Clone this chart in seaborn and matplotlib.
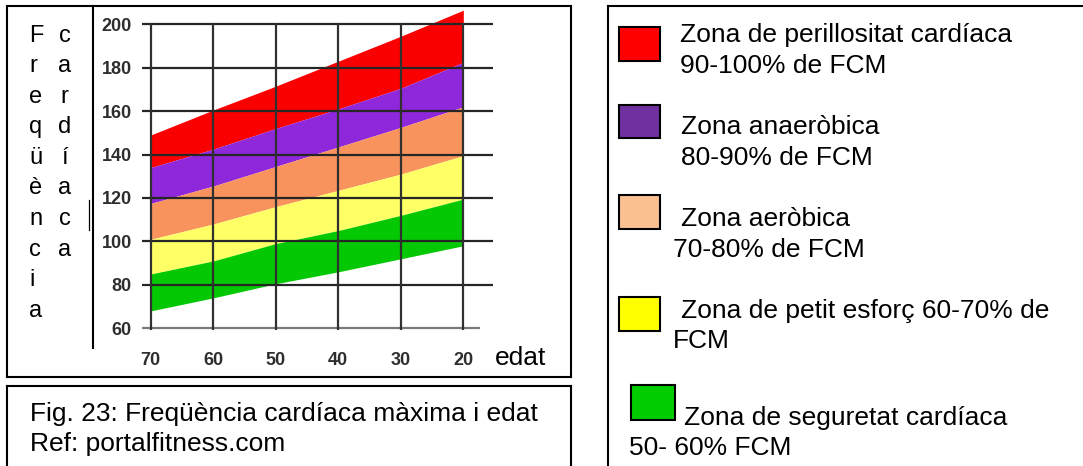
import matplotlib
matplotlib.use("Agg")
import matplotlib.pyplot as plt
import seaborn as sns
import pandas as pd
from matplotlib.lines import Line2D
from matplotlib.patches import Rectangle

# ---------------- data ----------------
ages = [70, 60, 50, 40, 30, 20]
red_top = [149, 160.5, 171.5, 183, 194.5, 206.5]
red_bottom = [134, 142.5, 152, 161, 170.5, 182.5]
purple_bottom = [117.5, 125.5, 134.5, 143.5, 152.5, 162]
orange_bottom = [101, 108, 116, 123.5, 131, 139.5]
yellow_bottom = [85, 91, 99, 105, 112, 119.5]
green_bottom = [68, 74, 80.5, 86, 92, 98]

y_ticks = [60, 80, 100, 120, 140, 160, 180, 200]
x_ticks = [70, 60, 50, 40, 30, 20]
x_tick_labels = ["70", "60", "50", "40", "30", "20"]

band_colors = ["#fb0000", "#8e28da", "#f8935e", "#ffff66", "#04c804"]
legend_colors = ["#ff0000", "#7030a0", "#fac090", "#ffff00", "#00cc00"]
legend_lines = [
    ("Zona de perillositat cardíaca", "90-100% de FCM"),
    ("Zona anaeròbica", "80-90% de FCM"),
    ("Zona aeròbica", "70-80% de FCM"),
    ("Zona de petit esforç 60-70% de", "FCM"),
    ("Zona de seguretat cardíaca", "50- 60% FCM"),
]
left_word = "Freqüència"
right_word = "cardíaca"
x_axis_word = "edat"
caption_lines = ["Fig. 23: Freqüència cardíaca màxima i edat", "Ref: portalfitness.com"]

# ---------------- style ----------------
sns.set_theme(style="white")
plt.rcParams["font.family"] = ["Liberation Sans", "DejaVu Sans"]

W, H = 1083, 466
fig = plt.figure(figsize=(W / 100, H / 100), dpi=100)
fig.patch.set_facecolor("white")


def fx(x):
    return x / W


def fy(y):
    return 1 - y / H


def fline(x0, y0, x1, y1, lw=1.5, color="black"):
    fig.add_artist(Line2D([fx(x0), fx(x1)], [fy(y0), fy(y1)], transform=fig.transFigure,
                          color=color, lw=lw, solid_capstyle="projecting"))


def ftext(x, y, s, size=19, **kw):
    fig.text(fx(x), fy(y), s, fontsize=size, va="baseline", ha=kw.pop("ha", "left"),
             color=kw.pop("color", "black"), **kw)


# ---------------- chart ----------------
ax_left, ax_right, ax_top, ax_bottom = 142, 493, 6, 335
ax = fig.add_axes([fx(ax_left), fy(ax_bottom), (ax_right - ax_left) / W, (ax_bottom - ax_top) / H])
ax.set_facecolor("none")
ax.set_xlim(71.39, 15.25)
ax.set_ylim(56.9, 208.43)

df = pd.DataFrame({
    "age": ages, "red_top": red_top, "red_bottom": red_bottom,
    "purple_bottom": purple_bottom, "orange_bottom": orange_bottom,
    "yellow_bottom": yellow_bottom, "green_bottom": green_bottom,
})
bounds = ["red_top", "red_bottom", "purple_bottom", "orange_bottom", "yellow_bottom", "green_bottom"]
for i, col in enumerate(band_colors):
    ax.fill_between(df["age"], df[bounds[i + 1]], df[bounds[i]], color=col, lw=0, zorder=1)

ax.hlines(y_ticks[1:], 71.39, 15.25, colors="#262626", lw=1.6, zorder=3)
ax.hlines(y_ticks[0], 71.39, 17.3, colors="#7a7a7a", lw=1.6, zorder=3)
ax.vlines(x_ticks, 59.2, 200.4, colors="#303030", lw=1.6, zorder=3)

for s in ax.spines.values():
    s.set_visible(False)
ax.grid(False)
ax.set_yticks(y_ticks)
ax.set_yticklabels([str(v) for v in y_ticks])
ax.set_xticks(x_ticks)
ax.set_xticklabels(x_tick_labels)
ax.tick_params(axis="y", length=0, pad=7.2, labelsize=13, labelcolor="#2e2e2e")
ax.tick_params(axis="x", length=0, pad=12.5, labelsize=13, labelcolor="#2e2e2e")
for lbl in ax.get_xticklabels() + ax.get_yticklabels():
    lbl.set_fontweight("bold")

# ---------------- frames ----------------
fline(7, 5.7, 571, 5.7)
fline(7, 5.7, 7, 376.5)
fline(571, 5.7, 571, 376.5)
fline(7, 376.5, 571, 376.5)
fline(93, 5.7, 93, 348)
fline(89, 200, 89, 230, lw=0.9)
fline(7, 385.7, 570.5, 385.7)
fline(7, 385.7, 7, 470)
fline(570.5, 385.7, 570.5, 470)
fline(607.7, 6, 1090, 6)
fline(607.7, 6, 607.7, 470)

# ---------------- vertical axis title ----------------
for i, ch in enumerate(left_word):
    ftext(29.5, 41.7 + i * 30.56, ch, size=17)
for i, ch in enumerate(right_word):
    ftext(64.5, 41.7 + i * 30.56, ch, size=17, ha="center")

ftext(495, 365, x_axis_word)

# ---------------- caption ----------------
ftext(29.5, 421, caption_lines[0])
ftext(29.5, 450.5, caption_lines[1])

# ---------------- legend ----------------
squares = [(618.7, 26.7, 659.7, 60.7), (618.7, 104.7, 659.7, 138.3), (618.7, 194.7, 659.7, 229),
           (618.7, 296.5, 659.7, 331), (630.7, 385, 674.7, 420)]
text_pos = [((680, 42.3), (680, 72.7)), ((681, 134), (681, 165)), ((681, 226), (673, 256.7)),
            ((681, 317.7), (673, 348.3)), ((684, 425), (629, 455))]
for (x0, y0, x1, y1), col, (l1, l2), (p1, p2) in zip(squares, legend_colors, legend_lines, text_pos):
    fig.add_artist(Rectangle((fx(x0), fy(y1)), (x1 - x0) / W, (y1 - y0) / H, transform=fig.transFigure,
                             facecolor=col, edgecolor="black", lw=1.5))
    ftext(p1[0], p1[1], l1)
    ftext(p2[0], p2[1], l2)

fig.savefig("out.png", dpi=100, facecolor="white")
